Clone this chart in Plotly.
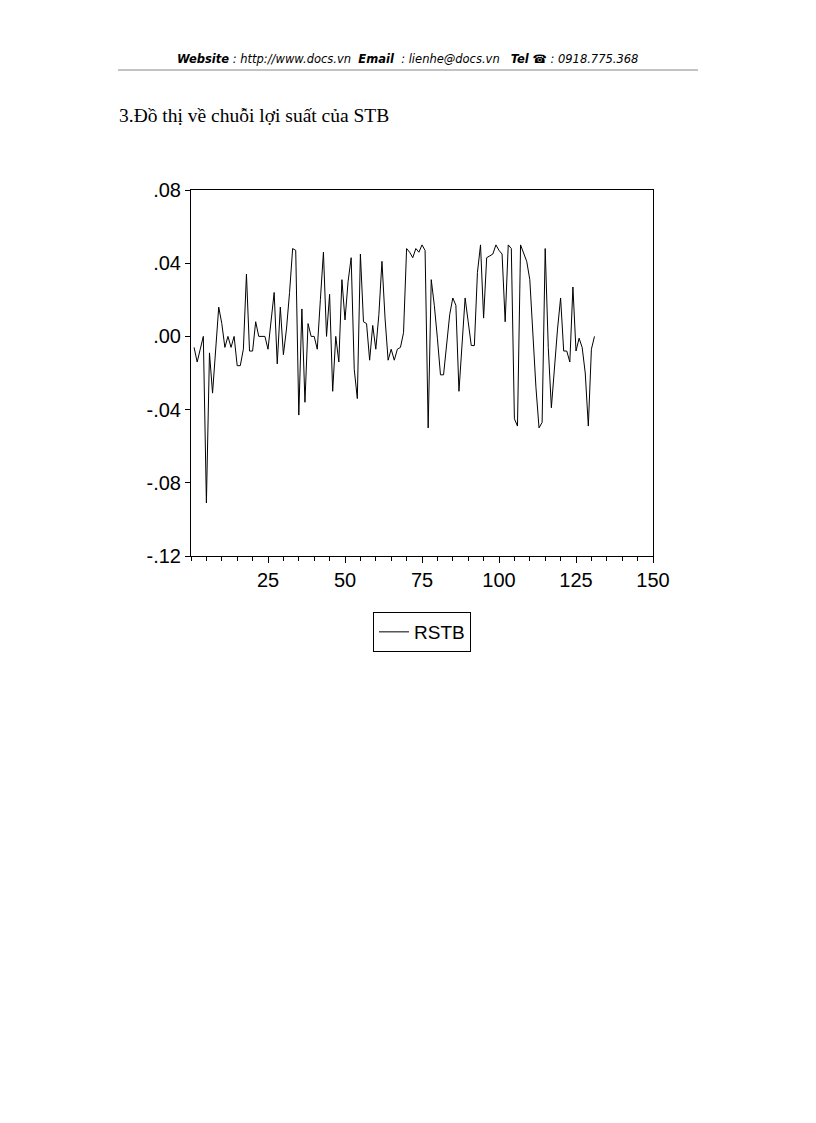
import plotly.graph_objects as go

# Observation index and series values (RSTB returns)
obs = list(range(1, 132))
rstb = [
    -0.006, -0.014, -0.007, 0.000, -0.091, -0.009, -0.031, -0.008, 0.016, 0.007,
    -0.006, 0.000, -0.006, 0.000, -0.016, -0.016, -0.007, 0.034, -0.008, -0.008,
    0.008, 0.000, 0.000, 0.000, -0.007, 0.008, 0.024, -0.015, 0.016, -0.010,
    0.004, 0.024, 0.048, 0.047, -0.043, 0.015, -0.036, 0.007, 0.000, 0.000,
    -0.007, 0.020, 0.046, 0.000, 0.023, -0.030, 0.000, -0.014, 0.031, 0.009,
    0.030, 0.043, -0.018, -0.034, 0.045, 0.008, 0.007, -0.013, 0.006, -0.007,
    0.012, 0.041, 0.010, -0.013, -0.007, -0.013, -0.007, -0.006, 0.002, 0.048,
    0.046, 0.043, 0.048, 0.046, 0.050, 0.047, -0.050, 0.031, 0.017, -0.001,
    -0.021, -0.021, -0.005, 0.012, 0.021, 0.017, -0.030, -0.001, 0.021, 0.008,
    -0.005, -0.005, 0.035, 0.050, 0.010, 0.043, 0.044, 0.045, 0.050, 0.047,
    0.045, 0.008, 0.050, 0.048, -0.045, -0.049, 0.050, 0.046, 0.041, 0.031,
    -0.002, -0.028, -0.050, -0.047, 0.048, -0.006, -0.039, -0.017, 0.004, 0.021,
    -0.008, -0.008, -0.014, 0.027, -0.008, -0.001, -0.006, -0.020, -0.049, -0.007,
    0.000,
]

y_tickvals = [-0.12, -0.08, -0.04, 0.00, 0.04, 0.08]
y_ticktext = ["-.12", "-.08", "-.04", ".00", ".04", ".08"]
x_tickvals = [25, 50, 75, 100, 125, 150]
x_ticktext = ["25", "50", "75", "100", "125", "150"]

OFF = 8  # page body margin
W, H = 800, 1107
L, R, T, B = 191 - OFF, 653 - OFF, 190 - OFF, 556 - OFF


def px(x):
    return (x - OFF - L) / (R - L)


def py(y):
    return (B - (y - OFF)) / (B - T)


fig = go.Figure()
fig.add_trace(go.Scatter(
    x=obs, y=rstb, mode="lines", name="RSTB",
    line=dict(color="black", width=1),
))

fig.update_layout(
    width=W, height=H,
    margin=dict(l=L, r=W - R, t=T, b=H - B, pad=0),
    paper_bgcolor="white", plot_bgcolor="white",
    font=dict(family="Liberation Sans, Arial", size=20, color="black"),
    showlegend=True,
    legend=dict(
        x=0.5, xanchor="center", y=py(612), yanchor="top",
        bordercolor="black", borderwidth=1,
        font=dict(family="Liberation Sans, Arial", size=19, color="black"),
        itemwidth=30, tracegroupgap=0,
    ),
    xaxis=dict(
        range=[0, 150], showgrid=False, zeroline=False,
        tickvals=x_tickvals, ticktext=x_ticktext,
        ticks="outside", ticklen=6, tickcolor="black", tickwidth=1,
        minor=dict(dtick=5, tick0=0, ticks="outside", ticklen=4, tickcolor="black", showgrid=False),
        showline=True, linecolor="black", linewidth=1, mirror=True,
        tickfont=dict(size=20),
    ),
    yaxis=dict(
        range=[-0.12, 0.08], showgrid=False, zeroline=False,
        tickvals=y_tickvals, ticktext=y_ticktext,
        ticks="outside", ticklen=5, tickcolor="black", tickwidth=1,
        showline=True, linecolor="black", linewidth=1, mirror=True,
        tickfont=dict(size=20),
    ),
)

# header line
fig.add_shape(type="line", xref="paper", yref="paper",
              x0=px(118), x1=px(698), y0=py(70), y1=py(70),
              line=dict(color="#888888", width=1))

# header text
fig.add_annotation(
    xref="paper", yref="paper", x=px(407), y=py(59),
    xanchor="center", yanchor="middle", showarrow=False,
    text="<i><b>Website</b> : http://www.docs.vn  <b>Email</b>  : lienhe@docs.vn   <b>Tel</b> ☎ : 0918.775.368</i>",
    font=dict(family="DejaVu Sans", size=11.5, color="black"),
)

# section title
fig.add_annotation(
    xref="paper", yref="paper", x=px(117), y=py(115),
    xanchor="left", yanchor="middle", showarrow=False,
    text="3.Đồ thị về chuỗi lợi suất của STB",
    font=dict(family="Liberation Serif, Times New Roman", size=19.5, color="black"),
)

fig.write_html("out.html")
